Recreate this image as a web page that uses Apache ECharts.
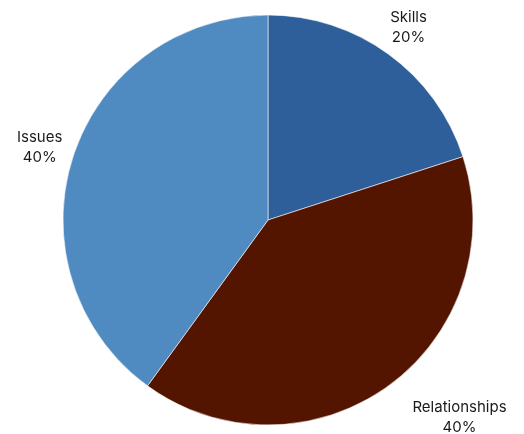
<!DOCTYPE html>
<html>
<head>
<meta charset="utf-8">
<script src="https://cdn.jsdelivr.net/npm/echarts@6/dist/echarts.min.js"></script>
<style>
html,body{margin:0;padding:0;background:#fff;}
#chart{width:524px;height:434px;}
</style>
</head>
<body>
<div id="chart"></div>
<script>
const categories = ['Skills', 'Relationships', 'Issues'];
const values = [20, 40, 40];
const colors = ['#2E5F9B', '#541500', '#4F8BC1'];

const CX = 268, CY = 220, R = 205, LABEL_R = 239;
const total = values.reduce((a, b) => a + b, 0);
const mids = [];
let cum = 0;
values.forEach(v => { mids.push(90 - 360 * (cum + v / 2) / total); cum += v; });
const extraDx = [0, 51, -1];
const extraDy = [0, 3, 0];

const chart = echarts.init(document.getElementById('chart'), null, {renderer: 'canvas'});
chart.setOption({
  animation: false,
  series: [{
    type: 'pie',
    center: [CX, CY],
    radius: [0, R],
    startAngle: 90,
    clockwise: true,
    data: categories.map((c, i) => ({name: c, value: values[i], itemStyle: {color: colors[i]}})),
    itemStyle: {borderColor: 'rgba(255,255,255,0.55)', borderWidth: 1},
    label: {
      show: true,
      position: 'outside',
      alignTo: 'none',
      overflow: 'none',
      width: 200,
      formatter: p => p.name + '\n' + Math.round(p.percent) + '%',
      fontFamily: 'Inter',
      fontSize: 15,
      lineHeight: 20,
      color: '#1a1a1a',
      align: 'center'
    },
    labelLine: {show: false},
    labelLayout: function (params) {
      const i = params.dataIndex;
      const a = mids[i] * Math.PI / 180;
      return {
        x: CX + LABEL_R * Math.cos(a) + extraDx[i],
        y: CY - LABEL_R * Math.sin(a) + extraDy[i] + 1,
        align: 'center',
        verticalAlign: 'middle'
      };
    },
    emphasis: {disabled: true}
  }]
});
</script>
</body>
</html>
